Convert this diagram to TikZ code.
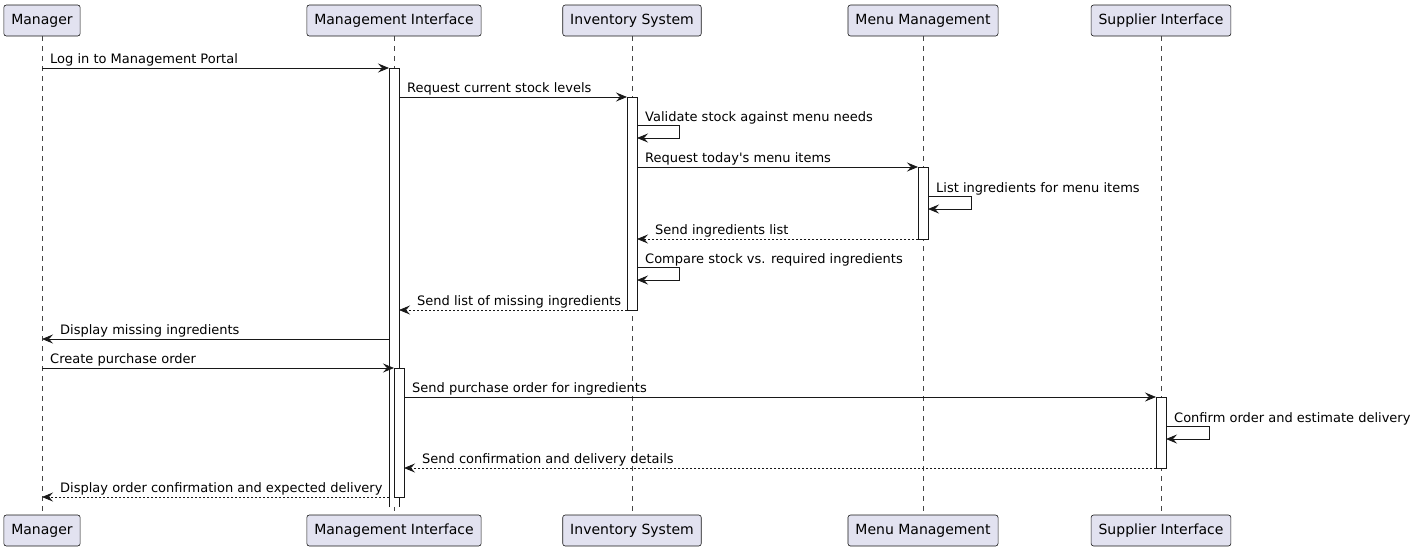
\documentclass[tikz,border=0pt]{standalone}
\usepackage{fontspec}
\setmainfont{DejaVu Sans}
\usetikzlibrary{arrows.meta}
\definecolor{partfill}{HTML}{E2E2F0}
\definecolor{partline}{HTML}{181818}
\tikzset{
  part/.style={draw=partline,fill=partfill,rounded corners=2.5pt,line width=0.6pt,minimum height=31pt,inner xsep=7.5pt,inner ysep=0pt,font=\fontsize{14}{16}\selectfont,text=black},
  lifeline/.style={draw=partline!80,dash pattern=on 5pt off 5pt,line width=0.5pt},
  actbar/.style={draw=partline,fill=white,line width=0.8pt},
  msg/.style={draw=partline,line width=0.8pt,-{Stealth[length=11pt,width=9pt,inset=4pt]}},
  rmsg/.style={msg,dash pattern=on 2pt off 2pt},
  lbl/.style={anchor=base west,inner sep=0pt,font=\fontsize{13}{15}\selectfont}
}
\begin{document}
\begin{tikzpicture}[x=1pt,y=-1pt]
\useasboundingbox (0,0) rectangle (1416,550);
% lifelines
\foreach \n/\x in {a/42,b/394,c/632,d/923,e/1161}{
  \coordinate (top\n) at (\x,36);
  \coordinate (bot\n) at (\x,515);
  \draw[lifeline] (top\n) -- (bot\n);
}
% participants
\node[part] (pa) at (42,20.5) {Manager};
\node[part] (pb) at (394,20.5) {Management Interface};
\node[part] (pc) at (632,20.5) {Inventory System};
\node[part] (pd) at (923,20.5) {Menu Management};
\node[part] (pe) at (1161,20.5) {Supplier Interface};
\node[part] (qa) at (42,530.5) {Manager};
\node[part] (qb) at (394,530.5) {Management Interface};
\node[part] (qc) at (632,530.5) {Inventory System};
\node[part] (qd) at (923,530.5) {Menu Management};
\node[part] (qe) at (1161,530.5) {Supplier Interface};
% activation bars
\fill[white] (389,68) rectangle (399,507);
\draw[partline,line width=0.8pt] (389,507) -- (389,68) -- (399,68) -- (399,507);
\draw[actbar] (394,368) rectangle (404,497);
\draw[actbar] (627,97) rectangle (637,310);
\draw[actbar] (918,167) rectangle (928,239);
\draw[actbar] (1156,397) rectangle (1166,468);
% message end points
\coordinate (m1s) at (42,68);   \coordinate (m1e) at (389,68);
\coordinate (m2s) at (399,97);  \coordinate (m2e) at (627,97);
\coordinate (m3a) at (637,125); \coordinate (m3b) at (679,125); \coordinate (m3c) at (679,138); \coordinate (m3e) at (637,138);
\coordinate (m4s) at (637,167); \coordinate (m4e) at (918,167);
\coordinate (m5a) at (928,196); \coordinate (m5b) at (971,196); \coordinate (m5c) at (971,209); \coordinate (m5e) at (928,209);
\coordinate (m6s) at (918,239); \coordinate (m6e) at (637,239);
\coordinate (m7a) at (637,267); \coordinate (m7b) at (679,267); \coordinate (m7c) at (679,280); \coordinate (m7e) at (637,280);
\coordinate (m8s) at (627,310); \coordinate (m8e) at (399,310);
\coordinate (m9s) at (389,339); \coordinate (m9e) at (42,339);
\coordinate (m10s) at (42,368); \coordinate (m10e) at (394,368);
\coordinate (m11s) at (404,397); \coordinate (m11e) at (1156,397);
\coordinate (m12a) at (1166,426); \coordinate (m12b) at (1209,426); \coordinate (m12c) at (1209,439); \coordinate (m12e) at (1166,439);
\coordinate (m13s) at (1156,468); \coordinate (m13e) at (404,468);
\coordinate (m14s) at (389,497); \coordinate (m14e) at (42,497);
% messages
\draw[msg] (m1s) -- (m1e);
\node[lbl] (l1) at (50,63) {Log in to Management Portal};
\draw[msg] (m2s) -- (m2e);
\node[lbl] (l2) at (407,92) {Request current stock levels};
\draw[msg] (m3a) -- (m3b) -- (m3c) -- (m3e);
\node[lbl] (l3) at (645,121) {Validate stock against menu needs};
\draw[msg] (m4s) -- (m4e);
\node[lbl] (l4) at (645,162) {Request today\textquotesingle s menu items};
\draw[msg] (m5a) -- (m5b) -- (m5c) -- (m5e);
\node[lbl] (l5) at (936,192) {List ingredients for menu items};
\draw[rmsg] (m6s) -- (m6e);
\node[lbl] (l6) at (655,234) {Send ingredients list};
\draw[msg] (m7a) -- (m7b) -- (m7c) -- (m7e);
\node[lbl] (l7) at (645,263) {Compare stock vs. required ingredients};
\draw[rmsg] (m8s) -- (m8e);
\node[lbl] (l8) at (417,305) {Send list of missing ingredients};
\draw[msg] (m9s) -- (m9e);
\node[lbl] (l9) at (60,334) {Display missing ingredients};
\draw[msg] (m10s) -- (m10e);
\node[lbl] (l10) at (50,363) {Create purchase order};
\draw[msg] (m11s) -- (m11e);
\node[lbl] (l11) at (412,392) {Send purchase order for ingredients};
\draw[msg] (m12a) -- (m12b) -- (m12c) -- (m12e);
\node[lbl] (l12) at (1174,422) {Confirm order and estimate delivery};
\draw[rmsg] (m13s) -- (m13e);
\node[lbl] (l13) at (422,463) {Send confirmation and delivery details};
\draw[rmsg] (m14s) -- (m14e);
\node[lbl] (l14) at (60,492) {Display order confirmation and expected delivery};
\end{tikzpicture}
\end{document}
